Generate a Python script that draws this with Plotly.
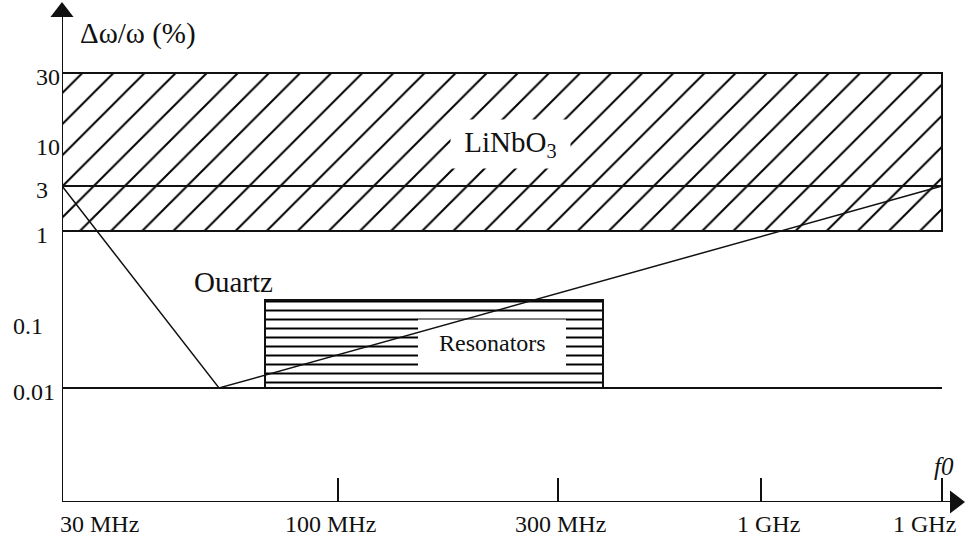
import plotly.graph_objects as go

# ---- schematic axis scale (positions along the drawn axes) ----
x_tick_labels = ["30 MHz", "100 MHz", "300 MHz", "1 GHz", "1 GHz"]
x_tick_pos = [0, 276, 496, 699, 880]
y_tick_labels = ["30", "10", "3", "1", "0.1", "0.01"]
y_tick_pos = [429, 359, 316, 271, 180, 114]

# ---- regions / curves ----
linbo3_x = [0, 880]          # 30 MHz .. right end
linbo3_y = [271, 429]        # 1 % .. 30 %
level3_y = 316               # 3 %
level001_y = 114             # 0.01 %
quartz_x = [0, 157, 880]
quartz_y = [316, 114, 316]
res_x = [203, 541]
res_y = [114, 202]

FONT = "Liberation Serif"
INK = "#111"

fig = go.Figure()

# LiNbO3 hatched band
fig.add_trace(go.Scatter(
    x=[linbo3_x[0], linbo3_x[1], linbo3_x[1], linbo3_x[0], linbo3_x[0]],
    y=[linbo3_y[0], linbo3_y[0], linbo3_y[1], linbo3_y[1], linbo3_y[0]],
    mode="lines", fill="toself", fillcolor="white",
    fillpattern=dict(shape="/", size=22, solidity=0.09, fgcolor="black", bgcolor="white", fillmode="replace"),
    line=dict(color=INK, width=2), hoverinfo="skip", showlegend=False))

# horizontal level lines
fig.add_trace(go.Scatter(x=linbo3_x, y=[level3_y, level3_y], mode="lines",
                         line=dict(color=INK, width=2), hoverinfo="skip", showlegend=False))
fig.add_trace(go.Scatter(x=linbo3_x, y=[level001_y, level001_y], mode="lines",
                         line=dict(color=INK, width=2), hoverinfo="skip", showlegend=False))

# Resonators striped box
fig.add_trace(go.Scatter(
    x=[res_x[0], res_x[1], res_x[1], res_x[0], res_x[0]],
    y=[res_y[0], res_y[0], res_y[1], res_y[1], res_y[0]],
    mode="lines", fill="toself", fillcolor="white",
    fillpattern=dict(shape="-", size=9, solidity=0.22, fgcolor="black", bgcolor="white", fillmode="replace"),
    line=dict(color=INK, width=2), hoverinfo="skip", showlegend=False))

# white background of the Resonators label
res_label_c = (430, 159)
res_label_wh = (148, 47)
hx, hy = res_label_wh[0] / 2, res_label_wh[1] / 2
fig.add_trace(go.Scatter(
    x=[res_label_c[0] - hx, res_label_c[0] + hx, res_label_c[0] + hx, res_label_c[0] - hx, res_label_c[0] - hx],
    y=[res_label_c[1] - hy, res_label_c[1] - hy, res_label_c[1] + hy, res_label_c[1] + hy, res_label_c[1] - hy],
    mode="lines", fill="toself", fillcolor="white", line=dict(width=0, color="white"),
    hoverinfo="skip", showlegend=False))

# Quartz boundary
fig.add_trace(go.Scatter(x=quartz_x, y=quartz_y, mode="lines",
                         line=dict(color=INK, width=1.5), hoverinfo="skip", showlegend=False))

# axes with arrow heads
axis_top = 490
axis_right = 893
fig.add_trace(go.Scatter(x=[0, 0], y=[0, axis_top], mode="lines", line=dict(color=INK, width=2),
                         hoverinfo="skip", showlegend=False, cliponaxis=False))
fig.add_trace(go.Scatter(x=[0, axis_right], y=[0, 0], mode="lines", line=dict(color=INK, width=2),
                         hoverinfo="skip", showlegend=False, cliponaxis=False))
fig.add_trace(go.Scatter(x=[0], y=[axis_top], mode="markers",
                         marker=dict(symbol="triangle-up", size=20, color=INK, line=dict(width=0)),
                         hoverinfo="skip", showlegend=False, cliponaxis=False))
fig.add_trace(go.Scatter(x=[axis_right], y=[0], mode="markers",
                         marker=dict(symbol="triangle-right", size=20, color=INK, line=dict(width=0)),
                         hoverinfo="skip", showlegend=False, cliponaxis=False))

annotations = []
# x tick labels
x_label_anchor = ["left", "center", "center", "center", "right"]
x_label_shift = [-4, -8, 2, 7, 16]
for lab, xp, anchor, shift in zip(x_tick_labels, x_tick_pos, x_label_anchor, x_label_shift):
    annotations.append(dict(x=xp, y=-0.044, xref="x", yref="paper", text=lab, showarrow=False,
                            xanchor=anchor, yanchor="middle", xshift=shift,
                            font=dict(family=FONT, size=24, color=INK)))

# y tick labels
for lab, yp in zip(y_tick_labels, y_tick_pos):
    px_left = 11 if "." in lab else 34
    annotations.append(dict(x=(px_left - 62) / 903, y=yp, xref="paper", yref="y", text=lab,
                            showarrow=False, xanchor="left", yanchor="middle", yshift=-4,
                            font=dict(family=FONT, size=24, color=INK)))

# titles / labels
annotations.append(dict(x=76, y=469, xref="x", yref="y", text="Δω/ω (%)", showarrow=False,
                        xanchor="center", yanchor="middle", font=dict(family=FONT, size=29, color=INK)))
annotations.append(dict(x=882, y=36, xref="x", yref="y", text="<i>f0</i>", showarrow=False,
                        xanchor="center", yanchor="middle", font=dict(family=FONT, size=25, color=INK)))
annotations.append(dict(x=448, y=358, xref="x", yref="y", text="\u00a0LiNbO<sub>3</sub>\u00a0",
                        showarrow=False, bgcolor="white", borderpad=6,
                        xanchor="center", yanchor="middle", font=dict(family=FONT, size=29, color=INK)))
annotations.append(dict(x=171, y=220, xref="x", yref="y", text="Ouartz", showarrow=False,
                        xanchor="center", yanchor="middle", font=dict(family=FONT, size=29, color=INK)))
annotations.append(dict(x=res_label_c[0], y=res_label_c[1], xref="x", yref="y", text="Resonators",
                        showarrow=False, xanchor="center", yanchor="middle",
                        font=dict(family=FONT, size=24, color=INK)))

fig.update_layout(
    width=965, height=542,
    margin=dict(l=62, r=0, t=0, b=40),
    paper_bgcolor="white", plot_bgcolor="white",
    showlegend=False,
    xaxis=dict(range=[0, 903], showgrid=False, zeroline=False, showline=False,
               tickvals=x_tick_pos[1:], ticks="inside", ticklen=24, tickwidth=1.5,
               tickcolor=INK, showticklabels=False, fixedrange=True),
    yaxis=dict(range=[0, 502], showgrid=False, zeroline=False, showline=False,
               showticklabels=False, ticks="", fixedrange=True),
    annotations=annotations,
)

fig.write_html("out.html")
